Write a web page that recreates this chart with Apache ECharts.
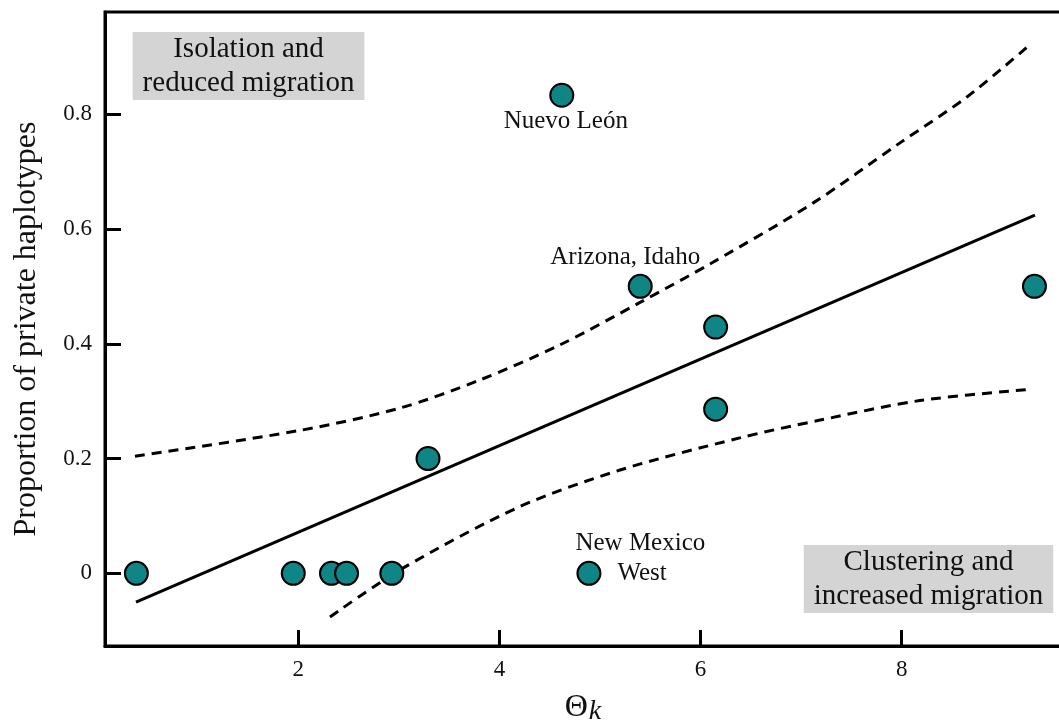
<!DOCTYPE html>
<html><head><meta charset="utf-8">
<script src="https://cdn.jsdelivr.net/npm/echarts@6/dist/echarts.min.js"></script>
<style>html,body{margin:0;padding:0;background:#fff}#c{width:1059px;height:727px}</style>
</head><body><div id="c"></div>
<script>
// ---- data ----
const thetaK      = [0.39, 1.95, 2.33, 2.48, 2.93, 3.29, 4.62, 5.40, 6.15, 6.15, 4.89, 9.32];
const privateProp = [0, 0, 0, 0, 0, 0.2, 0.833, 0.5, 0.429, 0.286, 0, 0.5];
const pointNames  = ['', '', '', '', '', '', 'Nuevo León', 'Arizona, Idaho', '', '', 'New Mexico West', ''];

const fitX   = [0.386, 9.325];
const fitY   = [-0.050, 0.624];
const upperX = [0.376, 2.016, 3.011, 3.807, 4.602, 5.398, 6.123, 7.117, 7.983, 8.649, 9.275];
const upperY = [0.204, 0.249, 0.288, 0.337, 0.398, 0.472, 0.542, 0.645, 0.750, 0.830, 0.921];
const lowerX = [2.315, 3.04, 4.20, 5.20, 6.39, 7.19, 8.18, 9.30];
const lowerY = [-0.076, 0.009, 0.116, 0.180, 0.236, 0.267, 0.301, 0.321];

const xTitle = 'Θk';
const yTitle = 'Proportion of private haplotypes';
const noteTopLeft = 'Isolation and\nreduced migration';
const noteBottomRight = 'Clustering and\nincreased migration';

// ---- build ----
const FONT = 'Liberation Serif';
const zip = (a, b) => a.map((v, i) => [v, b[i]]);

const labelStyles = {
  'Nuevo León': { position: 'bottom', distance: 1, offset: [4, 0] },
  'Arizona, Idaho': { position: 'top', distance: 4, offset: [-15, 0] },
  'New Mexico West': {
    position: 'right', distance: 0, offset: [-26, -15], align: 'left',
    formatter: '{a|New Mexico}\n{b|West}',
    rich: { a: { fontFamily: FONT, fontSize: 25, color: '#111', lineHeight: 30 },
            b: { fontFamily: FONT, fontSize: 25, color: '#111', lineHeight: 30, padding: [0, 0, 0, 42] } }
  }
};

const scatterData = thetaK.map((x, i) => {
  const name = pointNames[i];
  const item = { value: [x, privateProp[i]], name: name };
  if (name) {
    item.label = Object.assign({ show: true, formatter: name, fontFamily: FONT, fontSize: 25, color: '#111' }, labelStyles[name]);
  }
  return item;
});

const chart = echarts.init(document.getElementById('c'), null, { renderer: 'canvas' });
chart.setOption({
  animation: false,
  backgroundColor: '#fff',
  grid: { left: 105, top: 12, width: 956, height: 634, show: true, borderColor: '#000', borderWidth: 3,
          containLabel: false, outerBoundsMode: 'none' },
  xAxis: {
    type: 'value', min: 0.078, max: 9.584,
    splitLine: { show: false },
    axisLine: { show: true, onZero: false, lineStyle: { color: '#000', width: 3 } },
    axisTick: { show: true, inside: true, length: 16, lineStyle: { color: '#000', width: 3 } },
    axisLabel: { showMinLabel: false, showMaxLabel: false, fontFamily: FONT, fontSize: 23, color: '#111', margin: 12 },
    name: '{t|Θ}{k|k}', nameLocation: 'middle', nameGap: 43,
    nameTextStyle: { rich: {
      t: { fontFamily: FONT, fontSize: 32, color: '#111' },
      k: { fontFamily: FONT, fontSize: 28, fontStyle: 'italic', color: '#111', padding: [9, 0, 0, 1] }
    } }
  },
  yAxis: {
    type: 'value', min: -0.1266, max: 0.978,
    splitLine: { show: false },
    axisLine: { show: true, onZero: false, lineStyle: { color: '#000', width: 3 } },
    axisTick: { show: true, inside: true, length: 16, lineStyle: { color: '#000', width: 3 } },
    axisLabel: { showMinLabel: false, showMaxLabel: false, fontFamily: FONT, fontSize: 23, color: '#111', margin: 13 },
    name: yTitle, nameLocation: 'middle', nameGap: 62,
    nameTextStyle: { fontFamily: FONT, fontSize: 32, color: '#111' }
  },
  series: [
    { type: 'line', data: zip(fitX, fitY), symbol: 'none', lineStyle: { color: '#000', width: 3 }, z: 2, silent: true },
    { type: 'line', data: zip(upperX, upperY), smooth: 0.3, symbol: 'none', lineStyle: { color: '#000', width: 3, type: [10, 7] }, z: 2, silent: true },
    { type: 'line', data: zip(lowerX, lowerY), smooth: 0.3, symbol: 'none', lineStyle: { color: '#000', width: 3, type: [10, 7] }, z: 2, silent: true },
    { type: 'scatter', data: scatterData, symbol: 'circle', symbolSize: 23,
      itemStyle: { color: '#0f8585', borderColor: '#000', borderWidth: 2, opacity: 1 }, z: 5 }
  ],
  graphic: [
    { type: 'text', x: 248.5, y: 66, z: 10,
      style: { text: noteTopLeft, font: '29px "Liberation Serif"', fill: '#111', align: 'center', verticalAlign: 'middle', lineHeight: 34,
               backgroundColor: '#d4d4d4', padding: [0, 10, 0, 10] } },
    { type: 'text', x: 928.5, y: 579, z: 10,
      style: { text: noteBottomRight, font: '29px "Liberation Serif"', fill: '#111', align: 'center', verticalAlign: 'middle', lineHeight: 34,
               backgroundColor: '#d4d4d4', padding: [0, 10, 0, 10] } }
  ]
});
</script></body></html>
